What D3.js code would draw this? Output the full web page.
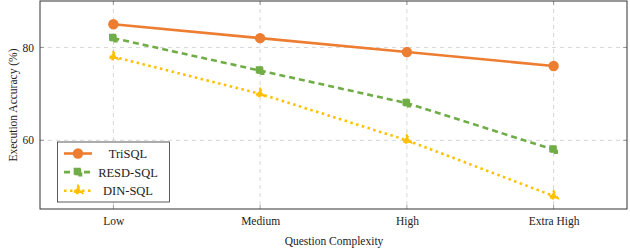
<!DOCTYPE html>
<html><head><meta charset="utf-8">
<script src="https://cdn.jsdelivr.net/npm/d3@7"></script>
<style>body{margin:0;background:#fff}svg{display:block}text{font-family:"Liberation Serif","DejaVu Serif",serif;fill:#222}</style>
</head><body><svg id="c" width="630" height="248"></svg>
<script>
const categories = ["Low", "Medium", "High", "Extra High"];
const seriesNames = ["TriSQL", "RESD-SQL", "DIN-SQL"];
const triSQL = [85, 82, 79, 76];
const resdSQL = [82, 75, 68, 58];
const dinSQL = [78, 70, 60, 48];
const yTicks = [60, 80];

const FONT = '"Liberation Serif","DejaVu Serif",serif';
const svg = d3.select("#c");
const L = 40, R = 627, T = 1, B = 209;
const x = d3.scalePoint().domain(categories).range([L, R]).padding(0.5);
const y = d3.scaleLinear().domain([45.2, 90]).range([B, T]);

// grid
const g = svg.append("g");
g.selectAll(".gx").data(categories).enter().append("line")
  .attr("x1", d => x(d)).attr("x2", d => x(d)).attr("y1", T).attr("y2", B)
  .attr("stroke", "#ccc").attr("stroke-width", 0.8).attr("stroke-dasharray", "4,4");
g.selectAll(".gy").data(yTicks).enter().append("line")
  .attr("x1", L).attr("x2", R).attr("y1", d => y(d)).attr("y2", d => y(d))
  .attr("stroke", "#ccc").attr("stroke-width", 0.8).attr("stroke-dasharray", "4,4");

// axes via d3
const xa = svg.append("g").attr("transform", `translate(0,${B})`)
  .call(d3.axisBottom(x).tickSize(0).tickPadding(8));
const ya = svg.append("g").attr("transform", `translate(${L},0)`)
  .call(d3.axisLeft(y).tickValues(yTicks).tickSize(0).tickPadding(6));
[xa, ya].forEach(a => { a.attr("font-family", FONT).attr("font-size", 11.5); a.select(".domain").remove(); a.selectAll("text").attr("fill", "#222"); });
// tick marks inside
categories.forEach(c => {
  svg.append("line").attr("x1", x(c)).attr("x2", x(c)).attr("y1", B).attr("y2", B - 4).attr("stroke", "#888").attr("stroke-width", 0.8);
  svg.append("line").attr("x1", x(c)).attr("x2", x(c)).attr("y1", T).attr("y2", T + 4).attr("stroke", "#888").attr("stroke-width", 0.8);
});
yTicks.forEach(v => {
  svg.append("line").attr("x1", L).attr("x2", L + 4).attr("y1", y(v)).attr("y2", y(v)).attr("stroke", "#888").attr("stroke-width", 0.8);
  svg.append("line").attr("x1", R).attr("x2", R - 4).attr("y1", y(v)).attr("y2", y(v)).attr("stroke", "#888").attr("stroke-width", 0.8);
});
svg.append("rect").attr("x", L).attr("y", T).attr("width", R - L).attr("height", B - T)
  .attr("fill", "none").attr("stroke", "#333").attr("stroke-width", 1);

const series = [
  {name: seriesNames[0], vals: triSQL, color: "#ED7D31", dash: null, marker: "circle"},
  {name: seriesNames[1], vals: resdSQL, color: "#70AD47", dash: "6,4", marker: "square"},
  {name: seriesNames[2], vals: dinSQL, color: "#FFC000", dash: "2.5,3.5", marker: "triangle"}
];
const line = d3.line().x((d, i) => x(categories[i])).y(d => y(d));

function marker(sel, s, cx, cy) {
  if (s.marker === "circle") {
    sel.append("circle").attr("cx", cx).attr("cy", cy).attr("r", 5.2).attr("fill", s.color);
  } else if (s.marker === "square") {
    sel.append("path").attr("d", d3.symbol(d3.symbolSquare, 42)())
      .attr("transform", `translate(${cx},${cy})`).attr("fill", s.color)
      .attr("stroke", s.color).attr("stroke-width", 2.2).attr("stroke-dasharray", s.dash);
  } else {
    sel.append("path").attr("d", d3.symbol(d3.symbolTriangle, 30)())
      .attr("transform", `translate(${cx},${cy})`).attr("fill", s.color)
      .attr("stroke", s.color).attr("stroke-width", 2.2).attr("stroke-dasharray", s.dash);
  }
}

series.forEach(s => {
  svg.append("path").datum(s.vals).attr("d", line).attr("fill", "none")
    .attr("stroke", s.color).attr("stroke-width", 2.6)
    .attr("stroke-dasharray", s.dash);
  s.vals.forEach((v, i) => marker(svg, s, x(categories[i]), y(v)));
});

// legend
const lg = svg.append("g");
lg.append("rect").attr("x", 57.5).attr("y", 142).attr("width", 112).attr("height", 60)
  .attr("fill", "#fff").attr("stroke", "#333").attr("stroke-width", 0.8);
series.forEach((s, i) => {
  const cy = 153.5 + i * 18.6;
  lg.append("line").attr("x1", 64).attr("x2", 92).attr("y1", cy).attr("y2", cy)
    .attr("stroke", s.color).attr("stroke-width", 2.6).attr("stroke-dasharray", s.dash);
  marker(lg, s, 78, cy);
  lg.append("text").attr("x", 128).attr("y", cy + 4.5).attr("text-anchor", "middle")
    .attr("font-family", FONT).attr("font-size", 12.5).text(s.name);
});

// axis labels
svg.append("text").attr("x", 334).attr("y", 245).attr("text-anchor", "middle")
  .attr("font-family", FONT).attr("font-size", 11.5).text("Question Complexity");
svg.append("text").attr("transform", `translate(17,${(T + B) / 2}) rotate(-90)`).attr("text-anchor", "middle")
  .attr("font-family", FONT).attr("font-size", 11.5).text("Execution Accuracy (%)");
</script></body></html>
